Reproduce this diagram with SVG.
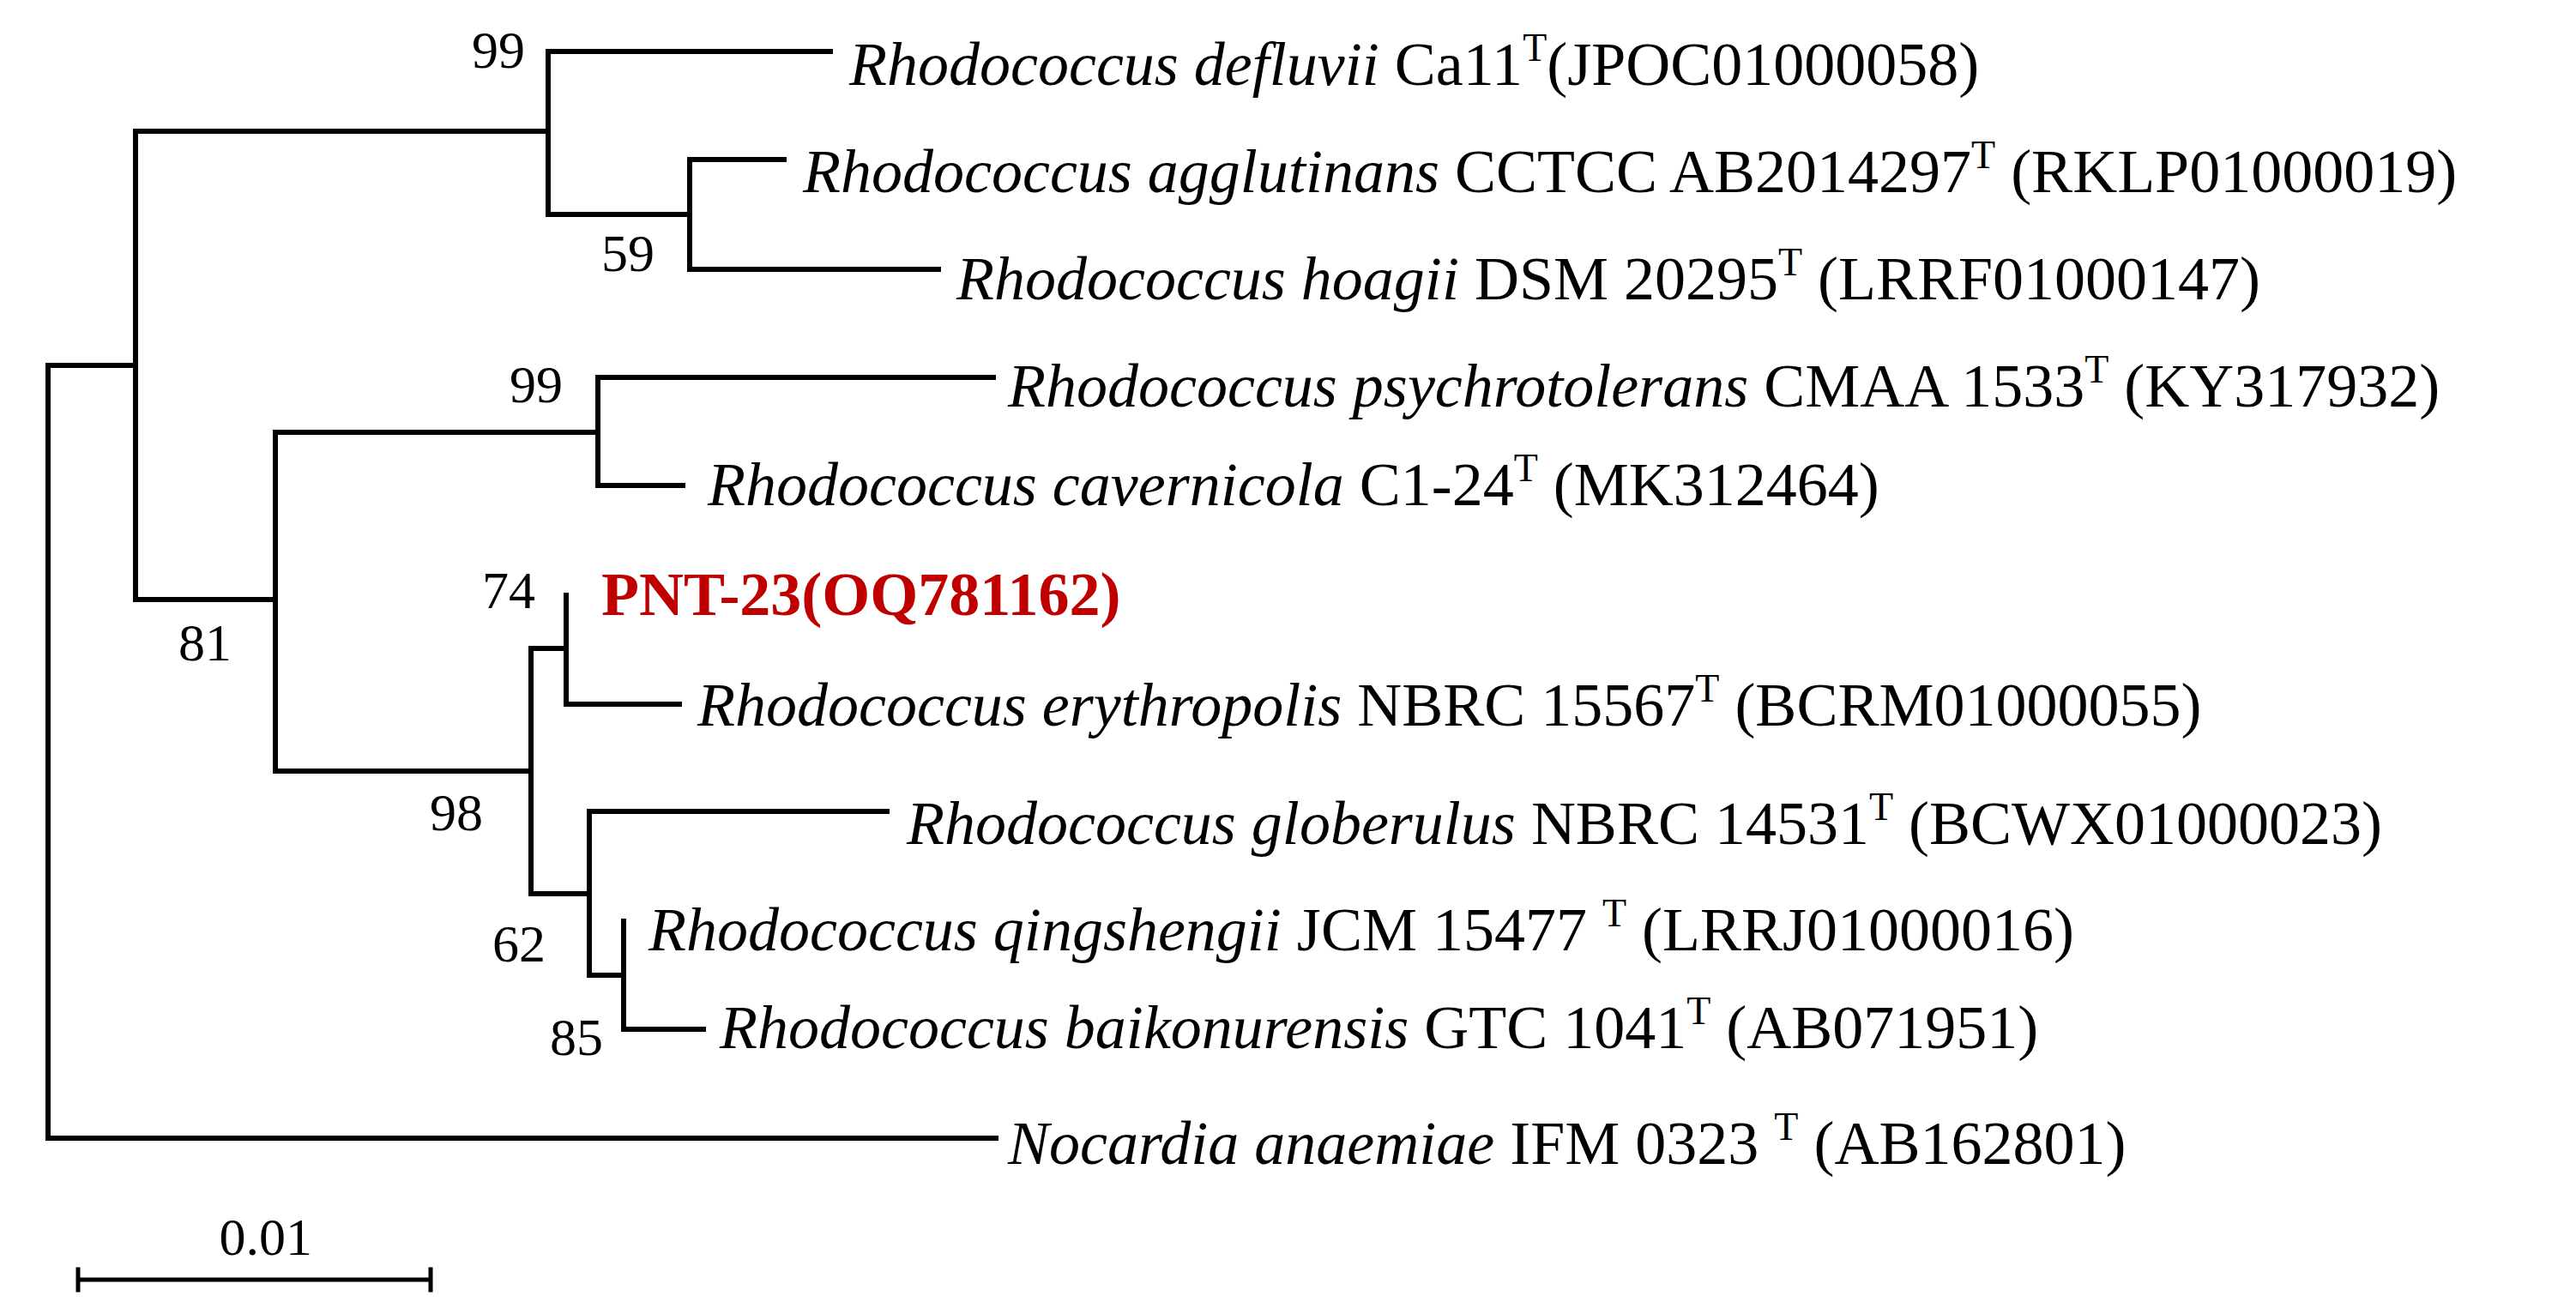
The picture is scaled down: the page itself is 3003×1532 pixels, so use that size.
<svg xmlns="http://www.w3.org/2000/svg" width="3003" height="1532" viewBox="0 0 3003 1532">
<style>
.t{font-family:"Liberation Serif","Times New Roman",serif;font-size:72px;fill:#000}
.b{font-family:"Liberation Serif","Times New Roman",serif;font-size:62px;fill:#000;text-anchor:end}
.s{font-size:46px}
.ln{stroke:#000;stroke-width:6;fill:none;stroke-linecap:square}
</style>
<rect width="3003" height="1532" fill="#fff"/>
<g id="connectors" class="ln">
<path d="M56 426V1327M56 426H158M56 1327H1161"/>
<path d="M158 153V699M158 153H639M158 699H321"/>
<path d="M639 60V250M639 60H968M639 250H804"/>
<path d="M804 186V314M804 186H914M804 314H1094"/>
<path d="M321 504V899M321 504H697M321 899H619"/>
<path d="M697 440V566M697 440H1158M697 566H796"/>
<path d="M619 756V1042M619 756H660M619 1042H687"/>
<path d="M660 694V821M660 821H792"/>
<path d="M687 946V1137M687 946H1034M687 1137H727"/>
<path d="M727 1074V1200M727 1200H820"/>
<path d="M91 1492H502M91 1480V1504M502 1480V1504" stroke-width="5"/>
</g>
<g id="labels">
<text class="t" x="990" y="99"><tspan font-style="italic">Rhodococcus defluvii</tspan> Ca11<tspan class="s" dy="-28">T</tspan><tspan dy="28">(JPOC01000058)</tspan></text>
<text class="t" x="936" y="224"><tspan font-style="italic">Rhodococcus agglutinans</tspan> CCTCC AB2014297<tspan class="s" dy="-28">T</tspan><tspan dy="28"> (RKLP01000019)</tspan></text>
<text class="t" x="1115" y="349"><tspan font-style="italic">Rhodococcus hoagii</tspan> DSM 20295<tspan class="s" dy="-28">T</tspan><tspan dy="28"> (LRRF01000147)</tspan></text>
<text class="t" x="1175" y="474"><tspan font-style="italic">Rhodococcus psychrotolerans</tspan> CMAA 1533<tspan class="s" dy="-28">T</tspan><tspan dy="28"> (KY317932)</tspan></text>
<text class="t" x="825" y="589"><tspan font-style="italic">Rhodococcus cavernicola</tspan> C1-24<tspan class="s" dy="-28">T</tspan><tspan dy="28"> (MK312464)</tspan></text>
<text class="t" x="701" y="717" font-weight="bold" style="fill:#C00000">PNT-23(OQ781162)</text>
<text class="t" x="813" y="846"><tspan font-style="italic">Rhodococcus erythropolis</tspan> NBRC 15567<tspan class="s" dy="-28">T</tspan><tspan dy="28"> (BCRM01000055)</tspan></text>
<text class="t" x="1057" y="984"><tspan font-style="italic">Rhodococcus globerulus</tspan> NBRC 14531<tspan class="s" dy="-28">T</tspan><tspan dy="28"> (BCWX01000023)</tspan></text>
<text class="t" x="756" y="1108"><tspan font-style="italic">Rhodococcus qingshengii</tspan> JCM 15477 <tspan class="s" dy="-28">T</tspan><tspan dy="28"> (LRRJ01000016)</tspan></text>
<text class="t" x="839" y="1222"><tspan font-style="italic">Rhodococcus baikonurensis</tspan> GTC 1041<tspan class="s" dy="-28">T</tspan><tspan dy="28"> (AB071951)</tspan></text>
<text class="t" x="1175" y="1357"><tspan font-style="italic">Nocardia anaemiae</tspan> IFM 0323 <tspan class="s" dy="-28">T</tspan><tspan dy="28"> (AB162801)</tspan></text>
</g>
<g id="bootstrap">
<text class="b" x="612" y="79">99</text>
<text class="b" x="763" y="316">59</text>
<text class="b" x="656" y="469">99</text>
<text class="b" x="624" y="709">74</text>
<text class="b" x="270" y="770">81</text>
<text class="b" x="563" y="968">98</text>
<text class="b" x="636" y="1121">62</text>
<text class="b" x="703" y="1230">85</text>
<text class="b" x="364" y="1463">0.01</text>
</g>
</svg>
